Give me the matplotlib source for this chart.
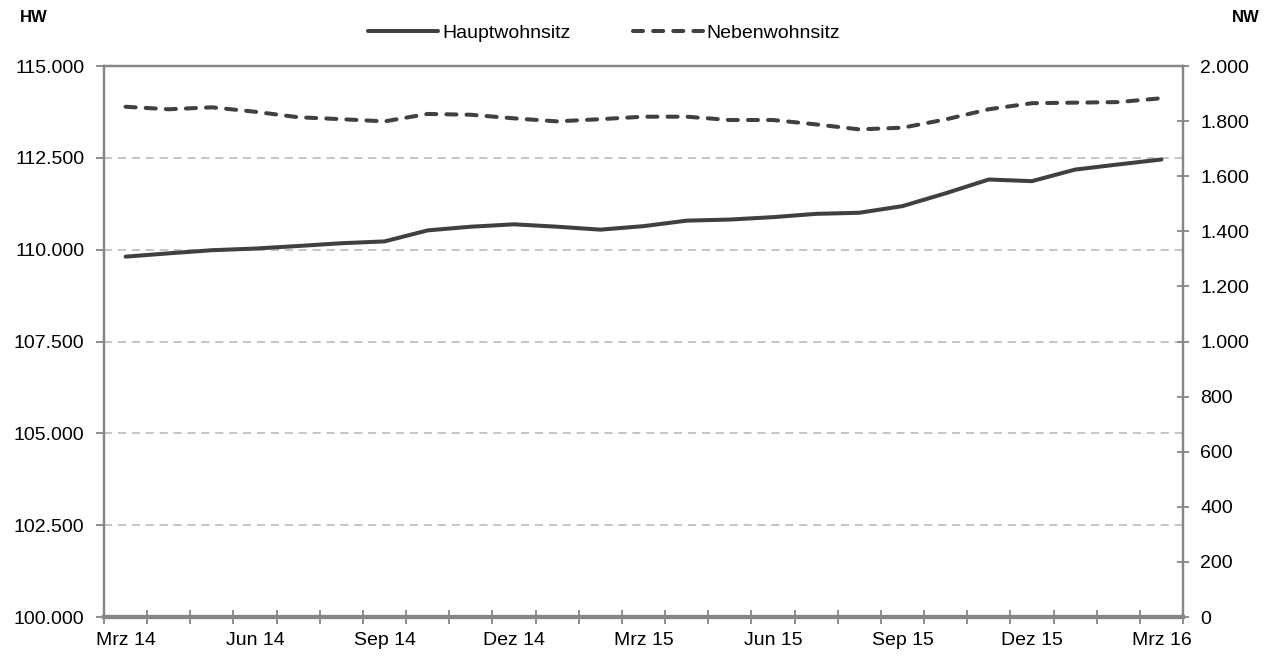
import matplotlib
matplotlib.use("Agg")
import matplotlib.pyplot as plt
from matplotlib.ticker import FuncFormatter, FixedLocator
import numpy as np

plt.rcParams["font.family"] = ["Liberation Sans", "DejaVu Sans"]

# monthly values Mrz 14 .. Mrz 16
MONTHS = ["Mrz 14", "Apr 14", "Mai 14", "Jun 14", "Jul 14", "Aug 14", "Sep 14",
          "Okt 14", "Nov 14", "Dez 14", "Jan 15", "Feb 15", "Mrz 15", "Apr 15",
          "Mai 15", "Jun 15", "Jul 15", "Aug 15", "Sep 15", "Okt 15", "Nov 15",
          "Dez 15", "Jan 16", "Feb 16", "Mrz 16"]
HW = [109810, 109900, 109985, 110030, 110100, 110175, 110225,
      110525, 110625, 110690, 110625, 110545, 110640, 110790,
      110820, 110885, 110975, 111005, 111185, 111535, 111910,
      111865, 112180, 112320, 112455]
NW = [1852, 1843, 1850, 1834, 1814, 1807, 1799,
      1826, 1823, 1810, 1799, 1807, 1816, 1816,
      1804, 1804, 1788, 1770, 1776, 1806, 1843,
      1865, 1867, 1869, 1883]
LABEL_EVERY = 3

LINE = "#404040"
AXIS = "#868686"
GRID = "#c0c0c0"
FS = 14


def de(v, _pos=None):
    return f"{v:,.0f}".replace(",", ".")


fig = plt.figure(figsize=(12.74, 6.57), dpi=100)
ax = fig.add_axes([104 / 1274, 40 / 657, 1079 / 1274, 551 / 657])
ax2 = ax.twinx()

x = np.arange(len(MONTHS))
h1, = ax.plot(x, HW, color=LINE, lw=2.9, solid_capstyle="round", label="Hauptwohnsitz", zorder=3)
h2, = ax2.plot(x, NW, color=LINE, lw=2.9, dashes=(2.5, 2.5), dash_capstyle="round",
               label="Nebenwohnsitz", zorder=3)

ax.set_xlim(-0.5, len(MONTHS) - 0.5)
ax.set_ylim(100000, 115000)
ax2.set_ylim(0, 2000)
ax.set_yticks(np.arange(100000, 115001, 2500))
ax2.set_yticks(np.arange(0, 2001, 200))
ax.yaxis.set_major_formatter(FuncFormatter(de))
ax2.yaxis.set_major_formatter(FuncFormatter(de))

# category boundaries carry the tick marks, labels sit on every 3rd month
ax.xaxis.set_major_locator(FixedLocator(np.arange(-0.5, len(MONTHS), 1.0)))
ax.xaxis.set_major_formatter(FuncFormatter(lambda v, p: ""))
ax.xaxis.set_minor_locator(FixedLocator(x[::LABEL_EVERY]))
ax.set_xticklabels(MONTHS[::LABEL_EVERY], minor=True)

for yv in np.arange(102500, 115000, 2500):
    ax.axhline(yv, color=GRID, lw=1.3, dashes=(4.5, 3.2), zorder=1)

for a in (ax, ax2):
    for s in a.spines.values():
        s.set_color(AXIS)
        s.set_linewidth(1.6)
ax.spines["bottom"].set_linewidth(3.0)
ax2.spines["bottom"].set_linewidth(3.0)

ax.tick_params(axis="y", which="major", direction="out", length=6, width=1.3, color=AXIS,
               labelsize=FS, pad=8)
ax2.tick_params(axis="y", which="major", direction="inout", length=9, width=1.3, color=AXIS,
                labelsize=FS, pad=8)
ax.tick_params(axis="x", which="major", direction="inout", length=10, width=1.3, color=AXIS)
ax.tick_params(axis="x", which="minor", length=0, labelsize=FS, pad=11)

fig.text(20 / 1274, 1 - 18 / 657, "HW", fontsize=12, fontweight="bold", va="center", ha="left")
fig.text(1260 / 1274, 1 - 18 / 657, "NW", fontsize=12, fontweight="bold", va="center", ha="right")

fig.legend(handles=[h1, h2], loc="center", bbox_to_anchor=(0.4745, 1 - 33 / 657), ncol=2,
           frameon=False, fontsize=FS, handlelength=3.6, handletextpad=0.2, columnspacing=3.2)

fig.savefig("out.png", dpi=100)
